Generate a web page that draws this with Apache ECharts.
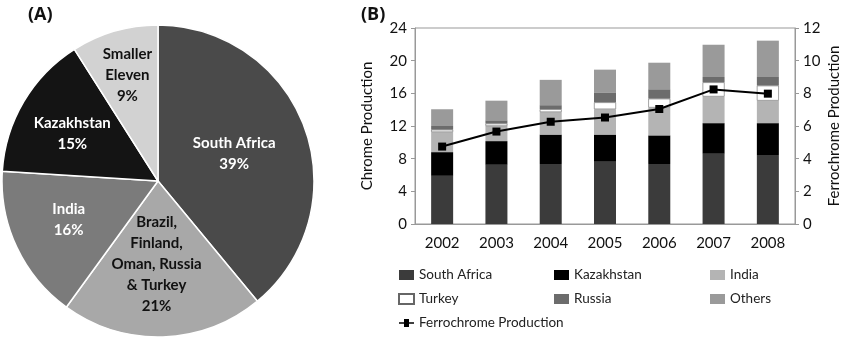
<!DOCTYPE html>
<html><head><meta charset="utf-8">
<script src="https://cdn.jsdelivr.net/npm/echarts@6/dist/echarts.min.js"></script>
<style>html,body{margin:0;padding:0;background:#fff}#c{width:847px;height:339px}</style>
</head><body><div id="c"></div>
<script>
const pieNames = ['South Africa', 'Brazil,\nFinland,\nOman, Russia\n& Turkey', 'India', 'Kazakhstan', 'Smaller\nEleven'];
const pieValues = [39, 21, 16, 15, 9];
const years = ['2002', '2003', '2004', '2005', '2006', '2007', '2008'];
const southAfrica = [5.9, 7.25, 7.35, 7.7, 7.35, 8.6, 8.45];
const kazakhstan = [2.9, 2.9, 3.6, 3.25, 3.5, 3.75, 3.9];
const india = [2.45, 1.85, 2.75, 3.1, 3.4, 3.25, 2.75];
const turkey = [0.3, 0.3, 0.35, 0.85, 1.1, 1.75, 1.85];
const russia = [0.45, 0.4, 0.5, 1.15, 1.15, 0.65, 1.05];
const others = [2.05, 2.4, 3.1, 2.85, 3.25, 3.95, 4.45];
const ferrochrome = [4.74, 5.66, 6.26, 6.52, 7.04, 8.24, 7.98];
const leftTicks = [0, 4, 8, 12, 16, 20, 24];
const rightTicks = [0, 2, 4, 6, 8, 10, 12];

const FONT = 'Lato';
const pieColors = ['#4a4a4a', '#a8a8a8', '#7b7b7b', '#141414', '#d2d2d2'];
const pieLabelColors = ['#fff', '#111', '#fff', '#fff', '#111'];
const pieOffsets = [[0, 0], [-4, 2], [-16, 4], [-16, -6], [-8, -28]];

const chart = echarts.init(document.getElementById('c'), null, {renderer: 'canvas'});
const barBase = {type: 'bar', stack: 'c', barWidth: 22, xAxisIndex: 0, yAxisIndex: 0};
const legendText = {fontFamily: FONT, fontSize: 13.5, color: '#222'};
const legendBase = {orient: 'vertical', top: 263, itemGap: 10, itemWidth: 15, itemHeight: 10, icon: 'rect', textStyle: legendText};
chart.setOption({
  animation: false,
  textStyle: {fontFamily: FONT},
  title: [
    {text: '(A)', left: 23, top: 1, textStyle: {fontFamily: 'Open Sans', fontSize: 18, fontWeight: 'bold', color: '#111'}},
    {text: '(B)', left: 356, top: 1, textStyle: {fontFamily: 'Open Sans', fontSize: 18, fontWeight: 'bold', color: '#111'}}
  ],
  legend: [
    Object.assign({}, legendBase, {left: 393, data: [{name: 'South Africa'}, {name: 'Turkey'}, {name: 'Ferrochrome Production', icon: 'path://M0,4.2L5,4.2L5,1L10,1L10,4.2L15,4.2L15,5.8L10,5.8L10,9L5,9L5,5.8L0,5.8Z'}]}),
    Object.assign({}, legendBase, {left: 549, data: ['Kazakhstan', 'Russia']}),
    Object.assign({}, legendBase, {left: 705, data: ['India', 'Others']})
  ],
  grid: {left: 415, right: 52, top: 28, bottom: 115, show: true, borderColor: '#999', borderWidth: 1},
  xAxis: {type: 'category', data: years, axisTick: {show: false}, axisLine: {lineStyle: {color: '#999'}},
    axisLabel: {fontFamily: FONT, fontSize: 15, color: '#111', margin: 12}},
  yAxis: [
    {type: 'value', min: 0, max: 24, interval: 4, name: 'Chrome Production', nameLocation: 'middle', nameGap: 40,
      nameTextStyle: {fontFamily: FONT, fontSize: 15, color: '#111'},
      axisLine: {show: true, lineStyle: {color: '#999'}}, axisTick: {show: true, length: 4, lineStyle: {color: '#999'}},
      axisLabel: {fontFamily: FONT, fontSize: 15, color: '#111', margin: 8, formatter: v => leftTicks.includes(v) ? String(v) : ''},
      splitLine: {show: false}},
    {type: 'value', min: 0, max: 12, interval: 2, position: 'right', name: 'Ferrochrome Production', nameLocation: 'middle', nameGap: 32,
      nameRotate: 90,
      nameTextStyle: {fontFamily: FONT, fontSize: 15, color: '#111'},
      axisLine: {show: true, lineStyle: {color: '#999'}}, axisTick: {show: true, length: 4, lineStyle: {color: '#999'}},
      axisLabel: {fontFamily: FONT, fontSize: 15, color: '#111', margin: 8, formatter: v => rightTicks.includes(v) ? String(v) : ''},
      splitLine: {show: false}}
  ],
  series: [
    {type: 'pie', center: [158, 181], radius: 156, startAngle: 90, clockwise: true,
      itemStyle: {borderColor: '#fff', borderWidth: 1.5},
      label: {show: true, position: 'inside', fontFamily: FONT, fontSize: 15, fontWeight: 'bold', lineHeight: 21,
        formatter: p => p.name + '\n' + p.value + '%'},
      labelLine: {show: false},
      data: pieValues.map((v, i) => ({value: v, name: pieNames[i], itemStyle: {color: pieColors[i]},
        label: {color: pieLabelColors[i], offset: pieOffsets[i]}}))},
    Object.assign({}, barBase, {name: 'South Africa', data: southAfrica, itemStyle: {color: '#3b3b3b'}}),
    Object.assign({}, barBase, {name: 'Kazakhstan', data: kazakhstan, itemStyle: {color: '#000'}}),
    Object.assign({}, barBase, {name: 'India', data: india, itemStyle: {color: '#b4b4b4'}}),
    Object.assign({}, barBase, {name: 'Turkey', data: turkey, itemStyle: {color: '#fff', borderColor: '#666', borderWidth: 0.6}}),
    Object.assign({}, barBase, {name: 'Russia', data: russia, itemStyle: {color: '#6c6c6c'}}),
    Object.assign({}, barBase, {name: 'Others', data: others, itemStyle: {color: '#9a9a9a'}}),
    {type: 'line', name: 'Ferrochrome Production', yAxisIndex: 1, data: ferrochrome, symbol: 'rect', symbolSize: 8,
      lineStyle: {color: '#000', width: 2}, itemStyle: {color: '#000'}}
  ]
});
</script></body></html>
